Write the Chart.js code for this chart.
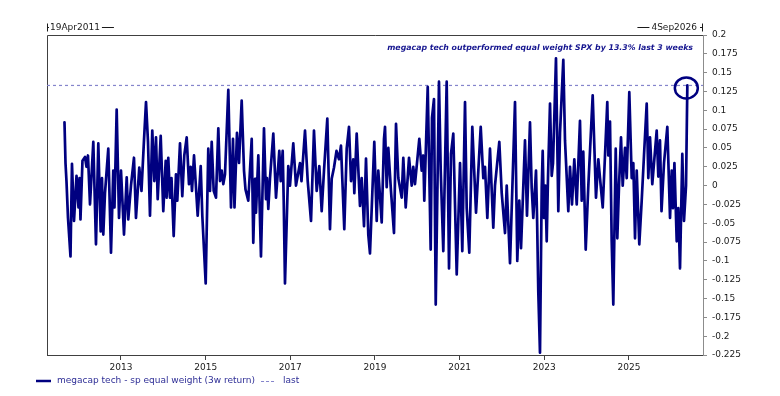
<!DOCTYPE html>
<html><head><meta charset="utf-8">
<script src="https://cdn.jsdelivr.net/npm/chart.js@4"></script>
<style>html,body{margin:0;padding:0;background:#fff;}canvas{display:block;}</style>
</head><body>
<canvas id="c" width="780" height="396" style="width:780px;height:396px"></canvas>
<script>
const seriesName = 'megacap tech - sp equal weight (3w return)';
const lastName = 'last';
const annotationText = 'megacap tech outperformed equal weight SPX by 13.3% last 3 weeks';
const startLabel = '19Apr2011';
const endLabel = '4Sep2026';
const xRange = [2011.252, 2026.749];
const xTickYears = [2013, 2015, 2017, 2019, 2021, 2023, 2025];
const yTicks = [-0.225,-0.2,-0.175,-0.15,-0.125,-0.1,-0.075,-0.05,-0.025,0,0.025,0.05,0.075,0.1,0.125,0.15,0.175,0.2];

// decimal-year dates and 3-week return values
const dates = [
2011.665,2011.689,2011.713,2011.748,2011.807,2011.842,2011.890,2011.949,2011.996,2012.020,
2012.043,2012.090,2012.150,2012.185,2012.220,2012.268,2012.346,2012.409,2012.464,2012.520,
2012.551,2012.582,2012.622,2012.700,2012.764,2012.818,2012.846,2012.898,2012.953,2013.000,
2013.071,2013.135,2013.172,2013.236,2013.307,2013.354,2013.432,2013.484,2013.543,2013.591,
2013.638,2013.685,2013.739,2013.787,2013.827,2013.867,2013.938,2013.999,2014.056,2014.080,
2014.117,2014.158,2014.193,2014.245,2014.299,2014.330,2014.394,2014.448,2014.495,2014.552,
2014.606,2014.647,2014.677,2014.725,2014.812,2014.883,2014.921,2015.001,2015.062,2015.103,
2015.143,2015.190,2015.244,2015.299,2015.339,2015.379,2015.417,2015.457,2015.535,2015.599,
2015.646,2015.681,2015.740,2015.788,2015.851,2015.906,2015.941,2016.007,2016.047,2016.088,
2016.125,2016.166,2016.189,2016.244,2016.307,2016.378,2016.425,2016.449,2016.480,2016.520,
2016.598,2016.662,2016.740,2016.773,2016.820,2016.844,2016.874,2016.952,2016.992,2017.070,
2017.134,2017.229,2017.264,2017.347,2017.411,2017.489,2017.559,2017.623,2017.685,2017.741,
2017.796,2017.874,2017.937,2017.978,2018.032,2018.091,2018.150,2018.197,2018.275,2018.332,
2018.386,2018.434,2018.488,2018.512,2018.568,2018.646,2018.686,2018.741,2018.788,2018.842,
2018.882,2018.984,2019.041,2019.078,2019.159,2019.213,2019.237,2019.277,2019.315,2019.378,
2019.449,2019.497,2019.551,2019.631,2019.669,2019.726,2019.804,2019.868,2019.905,2019.945,
2020.047,2020.104,2020.142,2020.165,2020.246,2020.316,2020.347,2020.394,2020.435,2020.512,
2020.553,2020.614,2020.694,2020.749,2020.796,2020.850,2020.931,2021.009,2021.063,2021.127,
2021.167,2021.228,2021.299,2021.387,2021.498,2021.559,2021.599,2021.654,2021.717,2021.795,
2021.835,2021.937,2021.994,2022.072,2022.112,2022.190,2022.308,2022.362,2022.409,2022.450,
2022.544,2022.591,2022.662,2022.702,2022.740,2022.804,2022.828,2022.858,2022.898,2022.939,
2022.962,2022.993,2023.024,2023.057,2023.087,2023.135,2023.175,2023.206,2023.276,2023.331,
2023.371,2023.449,2023.489,2023.567,2023.607,2023.654,2023.709,2023.766,2023.843,2023.884,
2023.921,2023.978,2024.040,2024.143,2024.221,2024.276,2024.316,2024.380,2024.434,2024.488,
2024.512,2024.552,2024.592,2024.630,2024.687,2024.725,2024.765,2024.812,2024.852,2024.907,
2024.947,2025.008,2025.065,2025.103,2025.143,2025.183,2025.244,2025.301,2025.355,2025.419,
2025.457,2025.497,2025.551,2025.655,2025.693,2025.733,2025.769,2025.828,2025.906,2025.970,
2026.010,2026.040,2026.074,2026.128,2026.166,2026.206,2026.260,2026.300,2026.348,2026.379
];
const values = [
0.084,0.030,0.005,-0.043,-0.094,0.029,-0.047,0.013,-0.029,0.010,
-0.045,0.033,0.038,0.025,0.040,-0.025,0.058,-0.078,0.056,-0.061,
0.010,-0.065,-0.010,0.049,-0.089,0.020,-0.029,0.101,-0.043,0.020,
-0.065,0.011,-0.045,0.000,0.037,-0.043,0.024,-0.007,0.060,0.111,
0.058,-0.040,0.073,0.006,0.064,-0.018,0.066,-0.034,0.033,-0.016,
0.037,-0.016,0.010,-0.067,0.015,-0.020,0.056,-0.014,0.040,0.064,
0.002,0.025,-0.007,0.040,-0.040,0.026,-0.040,-0.130,0.049,-0.007,
0.058,-0.007,-0.016,0.076,0.006,0.020,0.002,0.015,0.127,-0.029,
0.062,-0.029,0.070,0.030,0.113,0.020,-0.005,-0.020,0.020,0.062,
-0.076,0.009,-0.036,0.040,-0.094,0.076,-0.018,0.010,-0.031,0.010,
0.069,-0.016,0.046,0.006,0.046,-0.020,-0.130,0.026,0.000,0.056,
0.000,0.030,0.006,0.073,0.006,-0.047,0.073,-0.007,0.026,-0.034,
0.020,0.089,-0.058,0.009,0.024,0.046,0.035,0.053,-0.058,0.049,
0.078,0.006,0.035,-0.010,0.069,-0.027,0.010,-0.054,0.036,-0.065,
-0.090,0.058,-0.047,0.020,-0.049,0.062,0.078,-0.002,0.050,-0.007,
-0.063,0.082,0.010,-0.016,0.037,-0.029,0.037,0.000,0.025,0.002,
0.062,0.020,0.040,-0.020,0.131,-0.085,0.090,0.115,-0.158,0.138,
0.020,-0.087,0.138,-0.110,0.042,0.069,-0.118,0.030,-0.087,0.111,
-0.030,-0.089,0.078,-0.036,0.078,0.010,0.025,-0.043,0.049,-0.056,
0.000,0.058,-0.010,-0.063,0.000,-0.103,0.111,-0.100,-0.020,-0.083,
0.060,-0.040,0.084,-0.003,-0.043,0.020,-0.040,-0.141,-0.222,-0.003,
0.046,-0.043,0.000,-0.074,0.010,0.109,0.013,0.030,0.169,-0.034,
0.070,0.167,0.060,-0.034,0.025,-0.025,0.035,-0.025,0.086,-0.020,
0.045,-0.085,0.000,0.120,-0.016,0.035,0.010,-0.029,0.040,0.111,
0.040,0.085,-0.074,-0.158,0.049,-0.070,0.000,0.064,0.000,0.050,
0.010,0.124,0.010,0.030,-0.070,0.020,-0.078,-0.020,0.040,0.109,
0.010,0.064,0.002,0.073,0.012,0.060,-0.034,0.030,0.078,-0.043,
0.020,-0.030,0.030,-0.074,-0.030,-0.110,0.042,-0.047,0.000,0.133
];
const lastValue = values[values.length - 1];

const NAVY = '#000080';
const DASH = '#8585cc';
const FONT = '"DejaVu Sans", Verdana, sans-serif';

const points = dates.map((d, i) => ({ x: d, y: values[i] }));
const lastLine = [{ x: xRange[0], y: lastValue }, { x: xRange[1], y: lastValue }];

const decor = {
  id: 'decor',
  beforeDatasetsDraw(chart) {
    const { ctx, chartArea: a } = chart;
    ctx.save();
    ctx.strokeStyle = '#404040';
    ctx.lineWidth = 1;
    ctx.beginPath();
    ctx.moveTo(a.left + 0.5, a.bottom);
    ctx.lineTo(a.left + 0.5, a.top + 0.5);
    ctx.lineTo(a.right, a.top + 0.5);
    ctx.stroke();
    ctx.restore();
  },
  afterDraw(chart) {
    const { ctx, chartArea: a, scales } = chart;
    ctx.save();
    // circle around last observation
    const lx = scales.x.getPixelForValue(dates[dates.length - 1]);
    const ly = scales.y.getPixelForValue(lastValue);
    ctx.strokeStyle = NAVY;
    ctx.lineWidth = 2.5;
    ctx.beginPath();
    ctx.ellipse(lx - 1, ly + 2.5, 11.5, 10.5, 0, 0, Math.PI * 2);
    ctx.stroke();

    // annotation text
    ctx.fillStyle = '#15158f';
    let size = 9;
    ctx.font = 'italic bold ' + size + 'px ' + FONT;
    const w0 = ctx.measureText(annotationText).width;
    size = Math.min(9, size * 306 / w0);
    ctx.font = 'italic bold ' + size.toFixed(2) + 'px ' + FONT;
    ctx.textAlign = 'right';
    ctx.textBaseline = 'middle';
    ctx.fillText(annotationText, a.right - 10, 48);

    // range labels
    const ty = 27.5;
    ctx.font = '9px ' + FONT;
    ctx.fillStyle = '#1a1a1a';
    ctx.strokeStyle = '#1a1a1a';
    ctx.lineWidth = 1;
    ctx.textBaseline = 'middle';
    ctx.textAlign = 'left';
    const sw = ctx.measureText(startLabel).width;
    ctx.beginPath();
    ctx.moveTo(a.left + 0.5, ty - 4); ctx.lineTo(a.left + 0.5, ty + 4);
    ctx.moveTo(a.left, ty); ctx.lineTo(a.left + 2, ty);
    ctx.moveTo(a.left + 3 + sw + 2, ty); ctx.lineTo(a.left + 3 + sw + 14, ty);
    ctx.stroke();
    ctx.fillText(startLabel, a.left + 3, ty);
    ctx.textAlign = 'right';
    const ew = ctx.measureText(endLabel).width;
    const ex = a.right - 6;
    ctx.beginPath();
    ctx.moveTo(a.right - 0.5, ty - 4); ctx.lineTo(a.right - 0.5, ty + 4);
    ctx.moveTo(a.right - 3, ty); ctx.lineTo(a.right, ty);
    ctx.moveTo(ex - ew - 2, ty); ctx.lineTo(ex - ew - 14, ty);
    ctx.stroke();
    ctx.fillText(endLabel, ex, ty);

    // legend
    const gy = 381;
    ctx.strokeStyle = NAVY;
    ctx.lineWidth = 2.5;
    ctx.beginPath(); ctx.moveTo(36, gy); ctx.lineTo(51, gy); ctx.stroke();
    ctx.fillStyle = '#2e2e96';
    ctx.textAlign = 'left';
    ctx.fillText(seriesName, 57, gy);
    const nw = ctx.measureText(seriesName).width;
    const dx = 57 + nw + 6;
    ctx.strokeStyle = DASH;
    ctx.lineWidth = 1;
    ctx.setLineDash([3, 2]);
    ctx.beginPath(); ctx.moveTo(dx, gy + 0.5); ctx.lineTo(dx + 14, gy + 0.5); ctx.stroke();
    ctx.setLineDash([]);
    ctx.fillText(lastName, dx + 22, gy);
    ctx.restore();
  }
};

new Chart(document.getElementById('c'), {
  type: 'line',
  data: {
    datasets: [
      { label: seriesName, data: points, borderColor: NAVY, borderWidth: 2.7, borderJoinStyle: 'round', borderCapStyle: 'round',
        pointRadius: 0, tension: 0, fill: false },
      { label: lastName, data: lastLine, borderColor: DASH, borderWidth: 1.2, borderDash: [3, 3], pointRadius: 0, fill: false }
    ]
  },
  options: {
    responsive: false,
    animation: false,
    devicePixelRatio: 1,
    layout: { padding: { left: 47, top: 35, right: 0, bottom: 0 } },
    plugins: { legend: { display: false }, tooltip: { enabled: false }, title: { display: false } },
    scales: {
      x: {
        type: 'linear', position: 'bottom', min: xRange[0], max: xRange[1],
        afterBuildTicks: s => { s.ticks = xTickYears.map(v => ({ value: v })); },
        afterFit: s => { s.height = 41; },
        grid: { drawOnChartArea: false, drawTicks: true, tickLength: 5, color: '#404040' },
        border: { display: true, color: '#404040', width: 1 },
        ticks: { font: { family: FONT, size: 9 }, color: '#1a1a1a', padding: 2, maxRotation: 0, autoSkip: false,
                 callback: v => String(v) }
      },
      y: {
        type: 'linear', position: 'right', min: yTicks[0], max: yTicks[yTicks.length - 1],
        afterBuildTicks: s => { s.ticks = yTicks.map(v => ({ value: v })); },
        afterFit: s => { s.width = 77; },
        grid: { drawOnChartArea: false, drawTicks: true, tickLength: 4, color: '#8c8c8c' },
        border: { display: true, color: '#8c8c8c', width: 1 },
        ticks: { font: { family: FONT, size: 9 }, color: '#1a1a1a', padding: 5, autoSkip: false,
                 callback: v => String(Number(v.toFixed(3))) }
      }
    }
  },
  plugins: [decor]
});
</script>
</body></html>
